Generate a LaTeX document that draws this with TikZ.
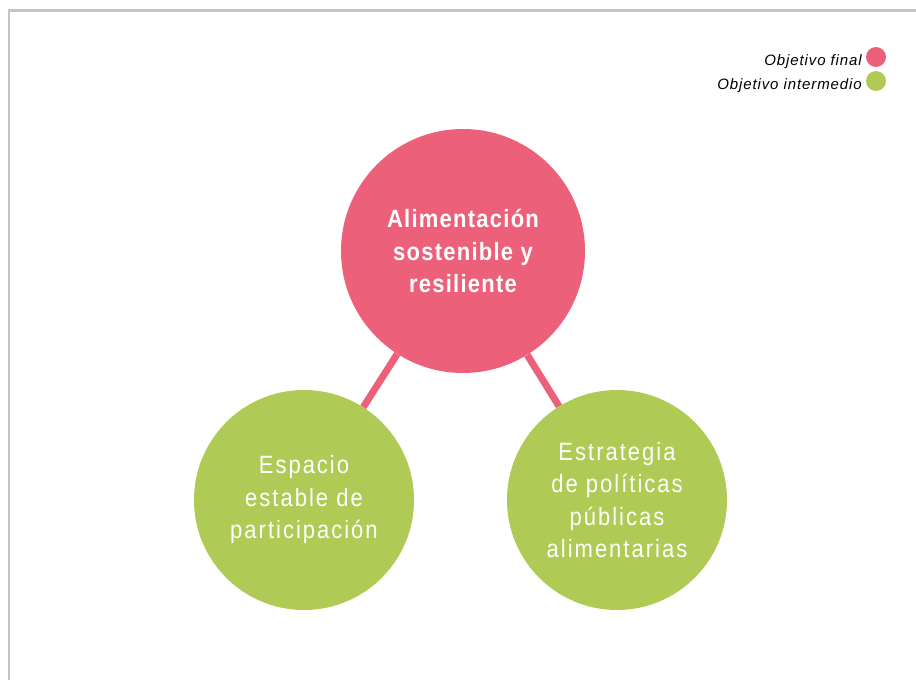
\documentclass[tikz,border=0pt]{standalone}
\usepackage{fontspec}
\usepackage{xcolor}
\setmainfont{Liberation Sans}
\newfontfamily\goalfont[FakeStretch=0.88,LetterSpace=5]{Liberation Sans}
\newfontfamily\subfont[FakeStretch=0.88,LetterSpace=8]{Liberation Sans}
\newfontfamily\legfont[LetterSpace=6]{Liberation Sans}

\definecolor{finalpink}{HTML}{EC607A}
\definecolor{midgreen}{HTML}{AFCB55}
\definecolor{framegray}{HTML}{C4C4C4}

\begin{document}
\begin{tikzpicture}[x=1pt,y=-1pt,
  goal/.style={circle, fill=finalpink, draw=none, minimum size=244pt, inner sep=0pt,
    text=white, align=center, font=\goalfont\bfseries\fontsize{25}{32.5}\selectfont},
  subgoal/.style={circle, fill=midgreen, draw=none, minimum size=220pt, inner sep=0pt,
    text=white, align=center, font=\subfont\fontsize{25}{32.5}\selectfont},
  dot/.style={circle, draw=none, minimum size=20pt, inner sep=0pt},
  legtext/.style={anchor=east, inner sep=0pt, font=\legfont\itshape\fontsize{15}{17}\selectfont},
  link/.style={line width=7pt, finalpink}]
\useasboundingbox (0,0) rectangle (916,680);
%\draw[help lines] (0,0) grid (916,680);

% frame
\draw[framegray, line width=2.5pt] (9,680) -- (9,10.5) -- (916,10.5);

% objectives
\node[goal] (final) at (463,251) {Alimentaci\'on\\sostenible y\\resiliente};
\node[subgoal] (espacio) at (304,500) {Espacio\\estable de\\participaci\'on};
\node[subgoal] (estrategia) at (617,500) {Estrategia\\de pol\'iticas\\p\'ublicas\\alimentarias};

\draw[link] (final) -- (espacio);
\draw[link] (final) -- (estrategia);

% legend
\node[dot, fill=finalpink] (dotfinal) at (876,57) {};
\node[dot, fill=midgreen] (dotmid) at (876,81) {};
\node[legtext] (legfinal) at (862,62) {Objetivo final};
\node[legtext] (legmid) at (862,86) {Objetivo intermedio};
\end{tikzpicture}
\end{document}
